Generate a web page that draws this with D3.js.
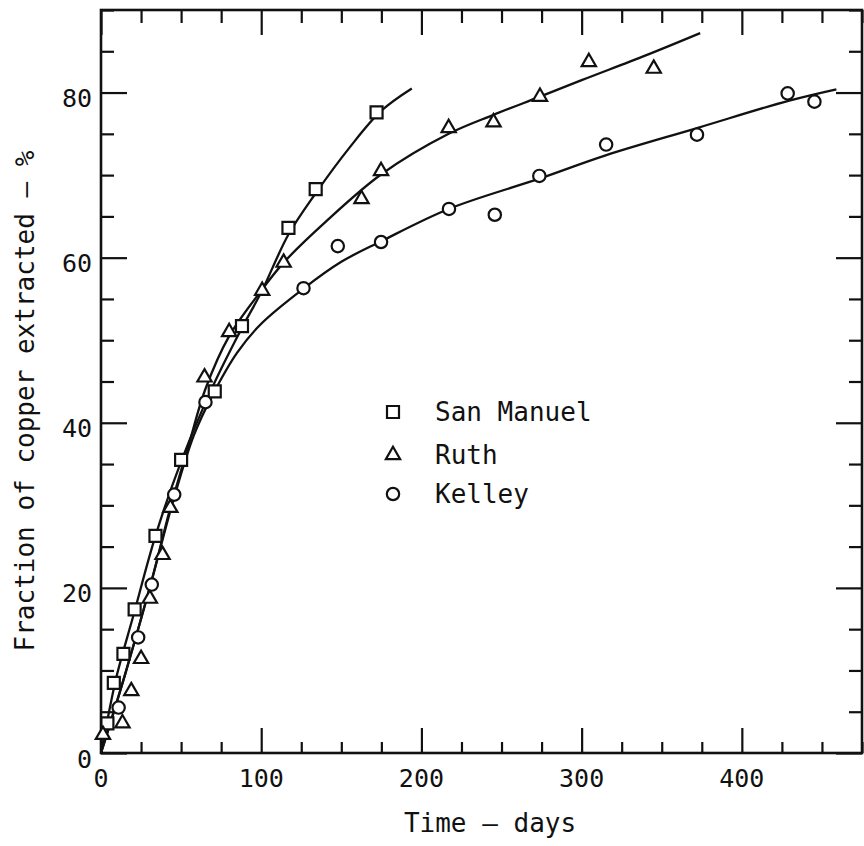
<!DOCTYPE html>
<html>
<head>
<meta charset="utf-8">
<script src="https://cdn.jsdelivr.net/npm/d3@7"></script>
<style>
  body { margin: 0; background: #fff; }
  text { font-family: "DejaVu Sans Mono", "Liberation Mono", monospace; fill: #111; }
</style>
</head>
<body>
<svg id="chart" width="864" height="846"></svg>
<script>
// measured points (days, % extracted)
const smDays = [4, 8, 14, 21, 34, 50, 71, 88, 117, 134, 172];
const smPct = [3.6, 8.5, 12, 17.4, 26.3, 35.5, 43.8, 51.7, 63.6, 68.3, 77.6];

const ruthDays = [1.2, 13.4, 18.9, 25, 30.5, 38.4, 43.3, 64.6, 80, 100.6, 114, 162.6, 174.8, 217, 245, 274, 304.5, 345];
const ruthPct = [2.2, 3.6, 7.5, 11.4, 18.7, 24, 29.7, 45.5, 51, 56, 59.4, 67.1, 70.5, 75.7, 76.4, 79.5, 83.7, 82.9];

const kelleyDays = [11, 23.2, 31.7, 45.7, 65.2, 126.4, 147.8, 174.8, 217.2, 245.8, 273.6, 315.3, 372, 428.6, 445.3];
const kelleyPct = [5.5, 14, 20.4, 31.3, 42.5, 56.3, 61.4, 61.9, 65.9, 65.2, 69.9, 73.7, 74.9, 79.9, 78.9];

// hand-drawn fit curves
const smCurveDays = [0, 4, 10, 20, 34, 50, 70, 88, 100, 117, 134, 155, 175, 194];
const smCurvePct = [0, 4, 9.5, 16.5, 26.3, 35.3, 44.5, 51.5, 55.8, 62.8, 67.8, 73.3, 77.8, 80.5];

const ruthCurveDays = [0, 15, 31.5, 43, 55, 65, 80, 100, 114, 140, 175, 217, 245, 274, 300, 340, 374];
const ruthCurvePct = [0, 9.5, 20.8, 29.5, 37.5, 44, 50.5, 56, 59.4, 64.3, 70.1, 75, 77.3, 79.5, 81.5, 84.5, 87.2];

const kelleyCurveDays = [0, 15, 31.5, 45, 58, 70, 85, 100, 126, 150, 175, 217, 274, 315, 372, 429, 459];
const kelleyCurvePct = [0, 9.5, 20.8, 30.5, 38.5, 43.5, 48.5, 52, 56.2, 59.5, 62, 65.9, 69.6, 72.4, 75.7, 79, 80.4];

const xTicks = [0, 100, 200, 300, 400];
const yTicks = [0, 20, 40, 60, 80];
const seriesNames = ['San Manuel', 'Ruth', 'Kelley'];

const svg = d3.select('#chart');
const frame = { left: 101, right: 862, top: 10, bottom: 753 };

const x = d3.scaleLinear().domain([0, 475]).range([frame.left, frame.right]);
const y = d3.scaleLinear().domain([0, 90]).range([frame.bottom, frame.top]);

const xMinor = d3.range(0, 476, 25).filter(d => !xTicks.includes(d));
const yMinor = d3.range(0, 91, 5).filter(d => !yTicks.includes(d));

// inward ticks on all four sides
const addTicks = (axisFn, scale, pos, major, minor, majorLen, minorLen) => {
	const gMaj = svg.append('g')
		.attr('transform', pos)
		.call(axisFn(scale).tickValues(major).tickSize(-majorLen).tickFormat(''));
	const gMin = svg.append('g')
		.attr('transform', pos)
		.call(axisFn(scale).tickValues(minor).tickSize(-minorLen).tickFormat(''));
	[gMaj, gMin].forEach(g => {
		g.select('.domain').remove();
		g.selectAll('line').attr('stroke', '#111').attr('stroke-width', 2.2);
	});
};

addTicks(d3.axisBottom, x, `translate(0,${frame.bottom})`, xTicks, xMinor, 25, 11);
addTicks(d3.axisTop, x, `translate(0,${frame.top})`, xTicks, xMinor, 25, 13);
addTicks(d3.axisLeft, y, `translate(${frame.left},0)`, yTicks, yMinor, 26, 13);
addTicks(d3.axisRight, y, `translate(${frame.right},0)`, yTicks, yMinor, 26, 13);

svg.append('rect')
	.attr('x', frame.left).attr('y', frame.top)
	.attr('width', frame.right - frame.left).attr('height', frame.bottom - frame.top)
	.attr('fill', 'none')
	.attr('stroke', '#111')
	.attr('stroke-width', 2.6);

// tick labels
svg.append('g').selectAll('text')
	.data(xTicks)
	.join('text')
	.attr('x', d => x(d))
	.attr('y', frame.bottom + 34)
	.attr('text-anchor', 'middle')
	.attr('font-size', 25)
	.text(d => d);

svg.append('g').selectAll('text')
	.data(yTicks)
	.join('text')
	.attr('x', frame.left - 9)
	.attr('y', d => y(d))
	.attr('dy', '0.58em')
	.attr('text-anchor', 'end')
	.attr('font-size', 25)
	.text(d => d);

svg.append('text')
	.attr('x', 490)
	.attr('y', 832)
	.attr('text-anchor', 'middle')
	.attr('font-size', 26)
	.text('Time — days');

svg.append('text')
	.attr('transform', 'translate(34,401) rotate(-90)')
	.attr('text-anchor', 'middle')
	.attr('font-size', 26)
	.text('Fraction of copper extracted — %');

// curves
const line = d3.line()
	.x(d => x(d[0]))
	.y(d => y(d[1]))
	.curve(d3.curveCatmullRom.alpha(0.5));

const curves = [
	d3.zip(smCurveDays, smCurvePct),
	d3.zip(ruthCurveDays, ruthCurvePct),
	d3.zip(kelleyCurveDays, kelleyCurvePct)
];

svg.append('g').selectAll('path')
	.data(curves)
	.join('path')
	.attr('d', line)
	.attr('fill', 'none')
	.attr('stroke', '#111')
	.attr('stroke-width', 2.3);

// markers
const symbols = [
	d3.symbol().type(d3.symbolSquare).size(144),
	d3.symbol().type(d3.symbolTriangle).size(88),
	d3.symbol().type(d3.symbolCircle).size(120)
];

const points = [
	d3.zip(smDays, smPct),
	d3.zip(ruthDays, ruthPct),
	d3.zip(kelleyDays, kelleyPct)
];

points.forEach((pts, i) => {
	svg.append('g').selectAll('path')
		.data(pts)
		.join('path')
		.attr('transform', d => `translate(${x(d[0])},${y(d[1])})`)
		.attr('d', symbols[i]())
		.attr('fill', '#fff')
		.attr('stroke', '#111')
		.attr('stroke-width', 2.2);
});

// legend
const legend = svg.append('g')
	.selectAll('g')
	.data(seriesNames)
	.join('g')
	.attr('transform', (d, i) => `translate(393,${[412, 455, 494][i]})`);

legend.append('path')
	.attr('d', (d, i) => symbols[i]())
	.attr('fill', '#fff')
	.attr('stroke', '#111')
	.attr('stroke-width', 2.2);

legend.append('text')
	.attr('x', 42)
	.attr('y', 0)
	.attr('dy', '0.36em')
	.attr('font-size', 26)
	.text(d => d);
</script>
</body>
</html>
